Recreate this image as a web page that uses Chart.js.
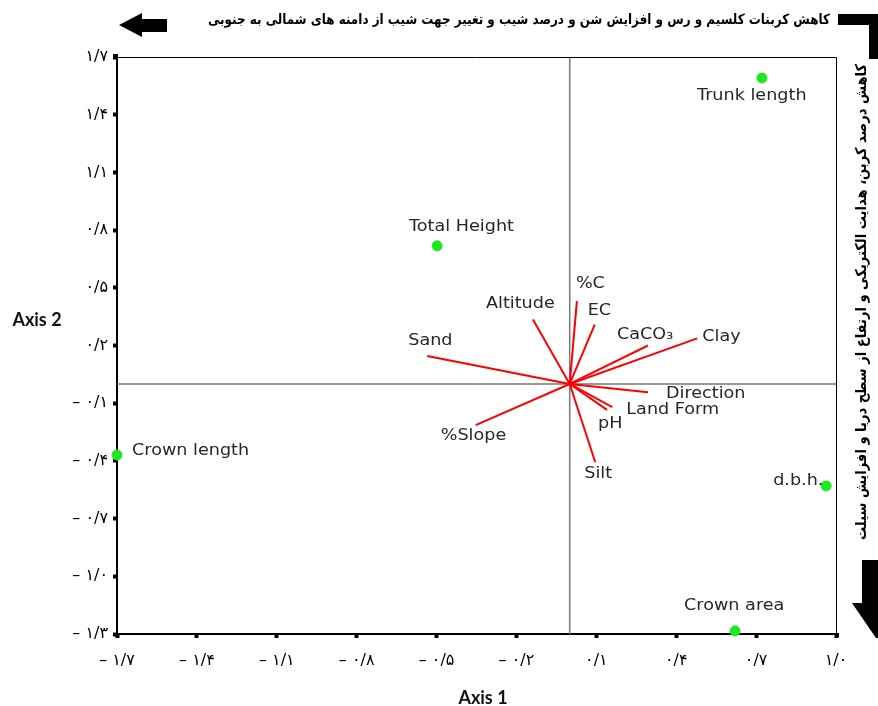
<!DOCTYPE html>
<html>
<head>
<meta charset="utf-8">
<script src="https://cdn.jsdelivr.net/npm/chart.js@4/dist/chart.umd.min.js"></script>
<style>
html,body{margin:0;padding:0;background:#fff;}
#wrap{width:878px;height:706px;position:relative;}
</style>
</head>
<body>
<div id="wrap"><canvas id="c" width="878" height="706"></canvas></div>
<script>
// ---- data ----
const pointNames = ["Trunk length", "Total Height", "Crown length", "d.b.h.", "Crown area"];
const pointX = [0.722, -0.498, -1.700, 0.963, 0.621];
const pointY = [1.591, 0.718, -0.369, -0.530, -1.284];

const vectorNames = ["%C", "EC", "CaCO₃", "Clay", "Direction", "Land Form", "pH", "Silt", "%Slope", "Sand", "Altitude"];
const vectorX = [0.027, 0.094, 0.294, 0.479, 0.294, 0.160, 0.140, 0.096, -0.353, -0.535, -0.138];
const vectorY = [0.431, 0.309, 0.200, 0.237, -0.043, -0.120, -0.135, -0.407, -0.214, 0.145, 0.335];

const xTicks = [-1.7, -1.4, -1.1, -0.8, -0.5, -0.2, 0.1, 0.4, 0.7, 1.0];
const yTicks = [-1.3, -1.0, -0.7, -0.4, -0.1, 0.2, 0.5, 0.8, 1.1, 1.4, 1.7];

const xTitle = "Axis 1";
const yTitle = "Axis 2";
const topNote = "کاهش کربنات کلسیم و رس و افزایش شن و درصد شیب و تغییر جهت شیب از دامنه های شمالی به جنوبی";
const sideNote = "کاهش درصد کربن، هدایت الکتریکی و ارتفاع از سطح دریا و افزایش سیلت";

// ---- label placement (pixel offsets from the mark, style only) ----
const pointLabelOffset = [[-65, 18], [-28, -19], [15, -4], [-53, -5], [-51, -25]];
const vectorLabelOffset = [[-1, -17], [-7, -14], [-31, -11], [5, -2], [18, 2], [14, 3], [-9, 14], [-11, 12], [-35, 11], [-19, -15], [-47, -16]];
const labelStretch = 1.1;

const faDigits = "۰۱۲۳۴۵۶۷۸۹";
function toFa(v) {
  const s = Math.abs(v).toFixed(1).replace('.', '/').replace(/[0-9]/g, d => faDigits[+d]);
  return (v < -1e-9 ? '– ' : '') + s;
}

const datasets = [];
datasets.push({
  label: 'points',
  data: pointX.map((x, i) => ({x: x, y: pointY[i]})),
  backgroundColor: '#1fe81f',
  borderColor: '#1fe81f',
  pointRadius: 5,
  pointHoverRadius: 5,
  showLine: false,
  clip: false
});
vectorX.forEach((vx, i) => {
  datasets.push({
    label: vectorNames[i],
    data: [{x: 0, y: 0}, {x: vx, y: vectorY[i]}],
    borderColor: '#ff0000',
    borderWidth: 2,
    pointRadius: 0,
    showLine: true,
    fill: false
  });
});

function stretchText(ctx, txt, px, py, k) {
  ctx.save();
  ctx.translate(px, py);
  ctx.scale(k, 1);
  ctx.fillText(txt, 0, 0);
  ctx.restore();
}

const decor = {
  id: 'decor',
  beforeDatasetsDraw(chart) {
    const {ctx, chartArea: a, scales: {x, y}} = chart;
    ctx.save();
    ctx.strokeStyle = '#777';
    ctx.lineWidth = 1.5;
    const x0 = x.getPixelForValue(0), y0 = y.getPixelForValue(0);
    ctx.beginPath();
    ctx.moveTo(x0, a.top); ctx.lineTo(x0, a.bottom);
    ctx.moveTo(a.left, y0); ctx.lineTo(a.right, y0);
    ctx.stroke();
    ctx.strokeStyle = '#000';
    ctx.lineWidth = 1;
    ctx.beginPath();
    ctx.moveTo(a.left, a.top + 0.5); ctx.lineTo(a.right + 0.5, a.top + 0.5); ctx.lineTo(a.right + 0.5, a.bottom);
    ctx.stroke();
    ctx.fillStyle = '#000';
    ctx.fillRect(a.left - 4, a.top - 3, 5, 5);
    ctx.fillRect(a.right - 1, a.bottom - 1, 4, 4);
    ctx.restore();
  },
  afterDatasetsDraw(chart) {
    const {ctx, scales: {x, y}} = chart;
    ctx.save();
    ctx.font = '16px "DejaVu Sans"';
    ctx.fillStyle = '#262626';
    ctx.textAlign = 'left';
    ctx.textBaseline = 'middle';
    pointNames.forEach((n, i) => {
      const px = x.getPixelForValue(pointX[i]), py = y.getPixelForValue(pointY[i]);
      stretchText(ctx, n, px + pointLabelOffset[i][0], py + pointLabelOffset[i][1], labelStretch);
    });
    vectorNames.forEach((n, i) => {
      const px = x.getPixelForValue(vectorX[i]), py = y.getPixelForValue(vectorY[i]);
      stretchText(ctx, n, px + vectorLabelOffset[i][0], py + vectorLabelOffset[i][1], labelStretch);
    });
    ctx.restore();
  },
  afterDraw(chart) {
    const {ctx} = chart;
    ctx.save();
    ctx.fillStyle = '#111';
    ctx.font = 'bold 18px Lato';
    ctx.textAlign = 'center';
    ctx.textBaseline = 'middle';
    ctx.fillText(xTitle, 483, 698);
    ctx.fillText(yTitle, 37, 320);

    // top-left arrow
    ctx.fillStyle = '#000';
    ctx.beginPath();
    ctx.moveTo(119, 25); ctx.lineTo(142, 13); ctx.lineTo(142, 19); ctx.lineTo(167, 19);
    ctx.lineTo(167, 32); ctx.lineTo(142, 32); ctx.lineTo(142, 37); ctx.closePath();
    ctx.fill();
    // top-right L bar
    ctx.fillRect(838, 14, 40, 11);
    ctx.fillRect(869, 14, 9, 45);
    // bottom-right down arrow
    ctx.beginPath();
    ctx.moveTo(862, 560); ctx.lineTo(878, 560); ctx.lineTo(878, 638); ctx.lineTo(876, 638);
    ctx.lineTo(852, 603); ctx.lineTo(862, 603); ctx.closePath();
    ctx.fill();

    // top note
    ctx.font = 'bold 14px "DejaVu Sans"';
    ctx.direction = 'rtl';
    ctx.textAlign = 'right';
    ctx.textBaseline = 'middle';
    const w = ctx.measureText(topNote).width;
    ctx.save();
    ctx.translate(830, 20);
    ctx.scale(622 / w, 1);
    ctx.fillText(topNote, 0, 0);
    ctx.restore();

    // side note (vertical, reading top to bottom)
    ctx.font = 'bold 15px "DejaVu Sans"';
    const w2 = ctx.measureText(sideNote).width;
    ctx.save();
    ctx.translate(862, 64);
    ctx.rotate(-Math.PI / 2);
    ctx.scale(476 / w2, 1);
    ctx.direction = 'rtl';
    ctx.textAlign = 'right';
    ctx.textBaseline = 'middle';
    ctx.fillText(sideNote, 0, 0);
    ctx.restore();
    ctx.restore();
  }
};

new Chart(document.getElementById('c'), {
  type: 'scatter',
  data: {datasets},
  options: {
    responsive: false,
    animation: false,
    events: [],
    layout: {padding: {left: 0, right: 42, top: 57, bottom: 0}},
    plugins: {legend: {display: false}, tooltip: {enabled: false}},
    scales: {
      x: {
        type: 'linear', min: -1.7, max: 1.0,
        afterBuildTicks: s => { s.ticks = xTicks.map(v => ({value: v})); },
        afterFit: s => { s.height = 72; },
        grid: {display: true, drawOnChartArea: false, drawTicks: true, tickLength: 4, tickWidth: 4, tickColor: '#000'},
        border: {display: true, color: '#000', width: 2},
        ticks: {
          callback: v => toFa(v), autoSkip: false, maxRotation: 0, padding: 13,
          color: '#000', font: {family: '"DejaVu Sans"', size: 16}
        }
      },
      y: {
        type: 'linear', min: -1.3, max: 1.7,
        afterBuildTicks: s => { s.ticks = yTicks.map(v => ({value: v})); },
        afterFit: s => { s.width = 117; },
        grid: {display: true, drawOnChartArea: false, drawTicks: true, tickLength: 4, tickWidth: 4, tickColor: '#000'},
        border: {display: true, color: '#000', width: 2},
        ticks: {
          callback: v => toFa(v), autoSkip: false, padding: 5,
          color: '#000', font: {family: '"DejaVu Sans"', size: 16}
        }
      }
    }
  },
  plugins: [decor]
});
</script>
</body>
</html>
